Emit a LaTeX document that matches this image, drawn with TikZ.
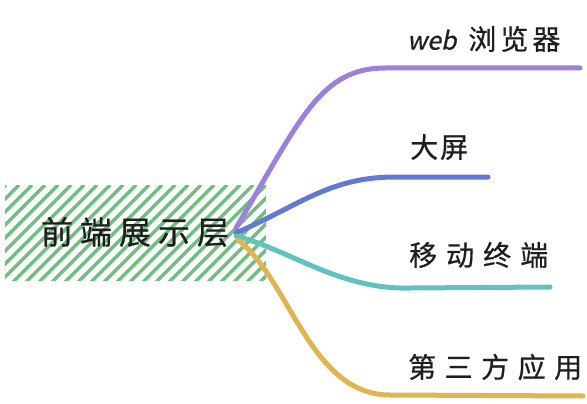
\documentclass[tikz,border=0pt]{standalone}
\usepackage{fontspec}
\newfontfamily\cjkfont[FakeBold=0.6]{Noto Sans CJK SC}
\definecolor{hatchgreen}{RGB}{110,192,126}
\definecolor{bpurple}{RGB}{157,127,220}
\definecolor{bblue}{RGB}{100,121,214}
\definecolor{bteal}{RGB}{98,194,190}
\definecolor{byellow}{RGB}{224,180,81}
\definecolor{ink}{RGB}{30,30,30}
\tikzset{
  branch/.style={line width=5pt, line cap=round},
  leaflabel/.style={anchor=west, inner sep=0pt, text=ink, font=\cjkfont\fontsize{28}{28}\selectfont},
  rootlabel/.style={inner sep=0pt, text=ink, font=\cjkfont\fontsize{32}{32}\selectfont}
}
\begin{document}
\begin{tikzpicture}[x=1pt,y=-1pt]
\useasboundingbox (0,0) rectangle (587,404);
\fill[white] (0,0) rectangle (587,404);
% hatch
\begin{scope}
\clip (5,185) rectangle (266,280);
\foreach \i in {-8,...,21} {
  \draw[hatchgreen, line width=3.3pt] ({13*\i},282) -- ({13*\i+97},185);
}
\end{scope}
\node[rootlabel] (root) at (135,232) {前\kern7pt 端\kern7pt 展\kern7pt 示\kern7pt 层};
% branch origins and ends
\coordinate (o1) at (236,228);
\coordinate (o2) at (236,233);
\coordinate (o3) at (236,236);
\coordinate (o4) at (238,240);
\coordinate (e1) at (580,68);
\coordinate (e2) at (488,177);
\coordinate (e3) at (550,287);
\coordinate (e4) at (583,396);
\draw[branch, bpurple] (o1) .. controls (300,120) and (320,68) .. (385,68) -- (e1);
\draw[branch, bblue] (o2) .. controls (300,205) and (330,177) .. (395,177) -- (e2);
\draw[branch, bteal] (o3) .. controls (290,250) and (340,290) .. (410,288) -- (e3);
\draw[branch, byellow] (o4) .. controls (290,280) and (310,395) .. (390,395) -- (e4);
% labels
\node[leaflabel] (l1) at (407,39) {{\addfontfeature{FakeSlant=0.2}\fontsize{25}{25}\selectfont web}\kern12pt 浏\kern4pt 览\kern4pt 器};
\node[leaflabel] (l2) at (410,147) {大\kern2pt 屏};
\node[leaflabel] (l3) at (409,255) {移\kern9pt 动\kern9pt 终\kern9pt 端};
\node[leaflabel] (l4) at (408,367) {第\kern8.5pt 三\kern8.5pt 方\kern8.5pt 应\kern8.5pt 用};
\end{tikzpicture}
\end{document}
